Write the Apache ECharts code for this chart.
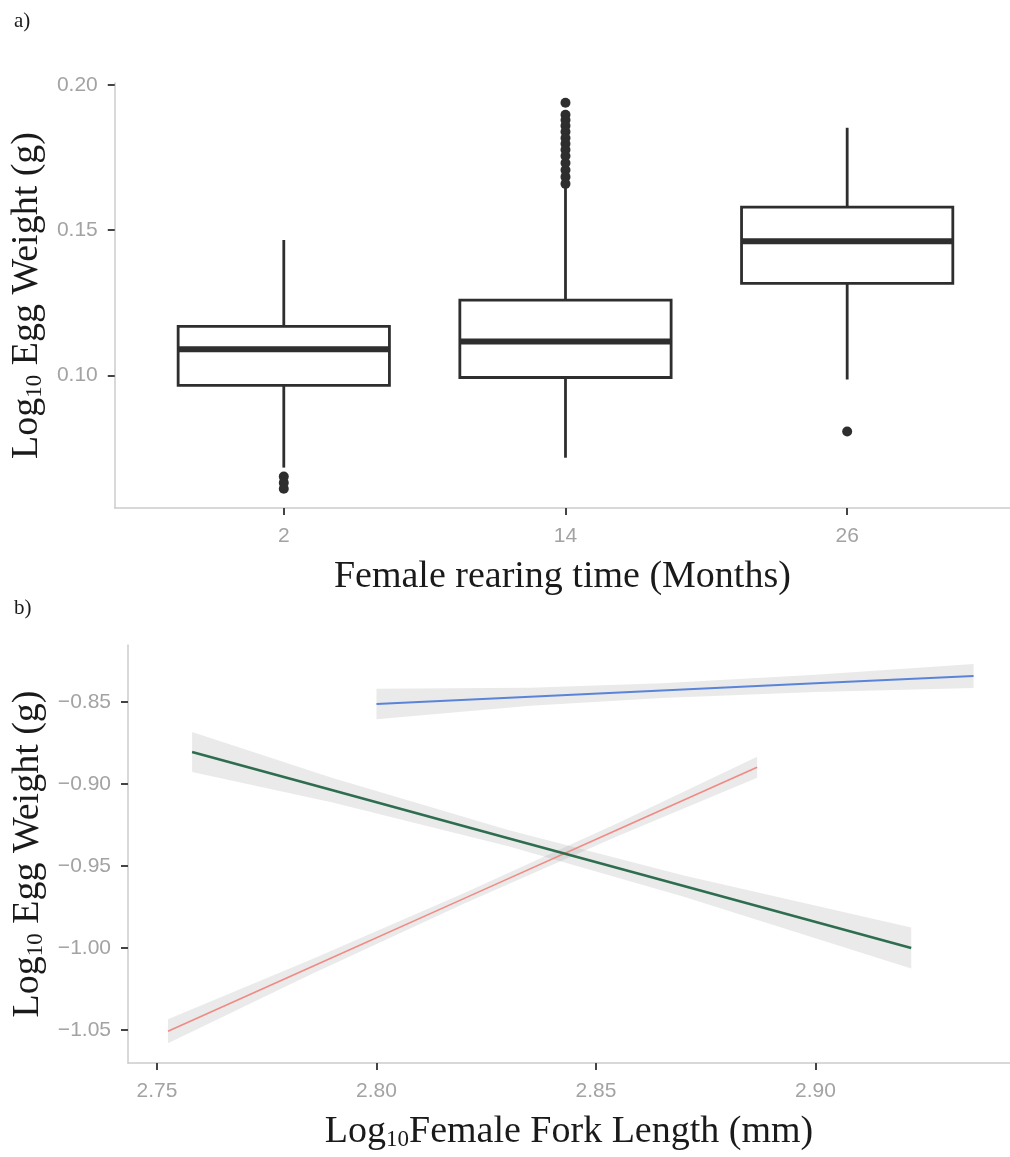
<!DOCTYPE html>
<html>
<head>
<meta charset="utf-8">
<script src="https://cdn.jsdelivr.net/npm/echarts@6/dist/echarts.min.js"></script>
<style>
  html, body { margin: 0; padding: 0; background: #fff; }
  #container { width: 1010px; height: 1157px; }
</style>
</head>
<body>
<div id="container"></div>
<script>
// a) egg weight by female rearing time (box summaries read off the plot)
const rearingMonths = ['2', '14', '26'];
const whiskerLow = [0.0683, 0.0717, 0.0986];
const q1 = [0.0966, 0.0993, 0.1317];
const median = [0.1090, 0.1117, 0.1462];
const q3 = [0.1169, 0.1259, 0.1579];
const whiskerHigh = [0.1466, 0.1655, 0.1852];
const outliers2 = [0.0652, 0.0631, 0.0610];
const outliers14 = [0.1938, 0.1897, 0.1879, 0.1859, 0.1838, 0.1817, 0.1797,
    0.1776, 0.1755, 0.1731, 0.1707, 0.1683, 0.1659];
const outliers26 = [0.0807];

// b) fitted lines with confidence bands
const redX = [2.7525, 2.785, 2.82, 2.855, 2.8867];
const redFit = [-1.0507, -1.0117, -0.9697, -0.9277, -0.8897];
const redLow = [-1.0580, -1.0162, -0.9729, -0.9317, -0.8961];
const redHigh = [-1.0434, -1.0072, -0.9665, -0.9237, -0.8833];

const greenX = [2.758, 2.79, 2.83, 2.87, 2.9218];
const greenFit = [-0.8805, -0.9038, -0.9330, -0.9622, -1.0000];
const greenLow = [-0.8927, -0.9113, -0.9380, -0.9687, -1.0125];
const greenHigh = [-0.8683, -0.8963, -0.9280, -0.9557, -0.9875];

const blueX = [2.800, 2.835, 2.865, 2.900, 2.936];
const blueFit = [-0.8512, -0.8468, -0.8430, -0.8386, -0.8341];
const blueLow = [-0.8605, -0.8523, -0.8475, -0.8438, -0.8414];
const blueHigh = [-0.8419, -0.8413, -0.8385, -0.8334, -0.8268];

const topYTicks = [0.10, 0.15, 0.20];
const bottomYTicks = [-1.05, -1.00, -0.95, -0.90, -0.85];
const bottomXTicks = [2.75, 2.80, 2.85, 2.90];

const SERIF = '"Liberation Serif", "Times New Roman", serif';
const SANS = '"Liberation Sans", Arial, sans-serif';
const BOX_COLOR = '#2e2e2e';
const TITLE_SIZE = 38;

const titleRich = {
    a: { fontFamily: SERIF, fontSize: TITLE_SIZE, color: '#1a1a1a' },
    s: { fontFamily: SERIF, fontSize: 23, color: '#1a1a1a', verticalAlign: 'bottom' }
};

function axisBase() {
    return {
        axisLine: { show: true, onZero: false, lineStyle: { color: '#cccccc', width: 1.5 } },
        axisTick: { show: true, length: 7, lineStyle: { color: '#444', width: 2 } },
        axisLabel: { color: '#a3a3a3', fontFamily: SANS, fontSize: 21 },
        splitLine: { show: false },
        nameLocation: 'middle',
        nameTextStyle: { rich: titleRich }
    };
}

let dom = document.getElementById('container');
let myChart = echarts.init(dom);

let boxData = rearingMonths.map(function (m, i) {
    return [i, whiskerLow[i], q1[i], median[i], q3[i], whiskerHigh[i]];
});
let outlierData = [];
[outliers2, outliers14, outliers26].forEach(function (list, i) {
    list.forEach(function (v) { outlierData.push([i, v]); });
});

function zip(xs, ys) {
    return xs.map(function (x, i) { return [x, ys[i]]; });
}
function zip3(xs, lo, hi) {
    return xs.map(function (x, i) { return [x, lo[i], hi[i]]; });
}
function fmtMinus(v) {
    return v.toFixed(2).replace('-', '\u2212');
}

function bandSeries(band) {
    return {
        type: 'custom',
        xAxisIndex: 1,
        yAxisIndex: 1,
        silent: true,
        z: 1,
        data: band,
        encode: { x: 0, y: [1, 2] },
        renderItem: function (params, api) {
            if (params.dataIndex !== 0) return;
            let up = band.map(function (d) { return api.coord([d[0], d[2]]); });
            let lo = band.map(function (d) { return api.coord([d[0], d[1]]); }).reverse();
            return {
                type: 'polygon',
                shape: { points: up.concat(lo) },
                style: { fill: 'rgba(150,150,150,0.2)' }
            };
        }
    };
}

function fitSeries(xs, ys, color, width) {
    return {
        type: 'line',
        xAxisIndex: 1,
        yAxisIndex: 1,
        z: 3,
        data: zip(xs, ys),
        showSymbol: false,
        silent: true,
        lineStyle: { color: color, width: width }
    };
}

let xTop = axisBase();
Object.assign(xTop, {
    type: 'value', gridIndex: 0, min: -0.6, max: 2.578,
    name: 'Female rearing time (Months)',
    nameGap: 50,
    nameTextStyle: { fontFamily: SERIF, fontSize: TITLE_SIZE, color: '#1a1a1a' }
});
xTop.axisTick.customValues = [0, 1, 2];
xTop.axisLabel.customValues = [0, 1, 2];
xTop.axisLabel.margin = 18;
xTop.axisLabel.formatter = function (v) { return rearingMonths[Math.round(v)]; };

let yTop = axisBase();
Object.assign(yTop, {
    type: 'value', gridIndex: 0, min: 0.0544, max: 0.2006,
    name: '{a|Log}{s|10}{a| Egg Weight (g)}',
    nameGap: 66,
    nameRotate: 90
});
yTop.axisTick.customValues = topYTicks;
yTop.axisLabel.customValues = topYTicks;
yTop.axisLabel.margin = 17;
yTop.axisLabel.formatter = function (v) { return v.toFixed(2); };

let xBottom = axisBase();
Object.assign(xBottom, {
    type: 'value', gridIndex: 1, min: 2.7434, max: 2.9443,
    name: '{a|Log}{s|10}{a|Female Fork Length (mm)}',
    nameGap: 50
});
xBottom.axisTick.customValues = bottomXTicks;
xBottom.axisLabel.customValues = bottomXTicks;
xBottom.axisLabel.margin = 18;
xBottom.axisLabel.formatter = function (v) { return v.toFixed(2); };

let yBottom = axisBase();
Object.assign(yBottom, {
    type: 'value', gridIndex: 1, min: -1.0701, max: -0.8152,
    name: '{a|Log}{s|10}{a| Egg Weight (g)}',
    nameGap: 80,
    nameRotate: 90
});
yBottom.axisTick.customValues = bottomYTicks;
yBottom.axisLabel.customValues = bottomYTicks;
yBottom.axisLabel.margin = 17;
yBottom.axisLabel.formatter = fmtMinus;

let option = {
    backgroundColor: '#ffffff',
    animation: false,
    title: [{
        text: 'a)', left: 9, top: 6,
        textStyle: { fontFamily: SERIF, fontSize: 21, fontWeight: 'normal', color: '#1a1a1a' }
    }, {
        text: 'b)', left: 9, top: 593,
        textStyle: { fontFamily: SERIF, fontSize: 21, fontWeight: 'normal', color: '#1a1a1a' }
    }],
    grid: [
        { left: 114, right: 0, top: 83, bottom: 649 },
        { left: 128, right: 0, top: 645, bottom: 94 }
    ],
    xAxis: [xTop, xBottom],
    yAxis: [yTop, yBottom],
    series: [{
        type: 'custom',
        xAxisIndex: 0,
        yAxisIndex: 0,
        data: boxData,
        encode: { x: 0, y: [1, 2, 3, 4, 5] },
        renderItem: function (params, api) {
            let x = api.value(0);
            let half = 0.375;
            let boxTL = api.coord([x - half, api.value(4)]);
            let boxBR = api.coord([x + half, api.value(2)]);
            let wHigh = api.coord([x, api.value(5)]);
            let wLow = api.coord([x, api.value(1)]);
            let medL = api.coord([x - half, api.value(3)]);
            let medR = api.coord([x + half, api.value(3)]);
            let lineStyle = { stroke: BOX_COLOR, lineWidth: 2.8 };
            return {
                type: 'group',
                children: [{
                    type: 'line',
                    shape: { x1: wHigh[0], y1: wHigh[1], x2: wHigh[0], y2: boxTL[1] },
                    style: lineStyle
                }, {
                    type: 'line',
                    shape: { x1: wLow[0], y1: boxBR[1], x2: wLow[0], y2: wLow[1] },
                    style: lineStyle
                }, {
                    type: 'rect',
                    shape: { x: boxTL[0], y: boxTL[1], width: boxBR[0] - boxTL[0], height: boxBR[1] - boxTL[1] },
                    style: { fill: '#ffffff', stroke: BOX_COLOR, lineWidth: 2.8 }
                }, {
                    type: 'line',
                    shape: { x1: medL[0], y1: medL[1], x2: medR[0], y2: medR[1] },
                    style: { stroke: BOX_COLOR, lineWidth: 6 }
                }]
            };
        }
    }, {
        type: 'scatter',
        xAxisIndex: 0,
        yAxisIndex: 0,
        data: outlierData,
        symbolSize: 10,
        itemStyle: { color: BOX_COLOR, opacity: 1 },
        silent: true
    },
    bandSeries(zip3(redX, redLow, redHigh)),
    bandSeries(zip3(greenX, greenLow, greenHigh)),
    bandSeries(zip3(blueX, blueLow, blueHigh)),
    fitSeries(redX, redFit, '#f08a84', 1.6),
    fitSeries(greenX, greenFit, '#2f6d50', 2.6),
    fitSeries(blueX, blueFit, '#5b84d8', 2)
    ]
};

myChart.setOption(option);
</script>
</body>
</html>
